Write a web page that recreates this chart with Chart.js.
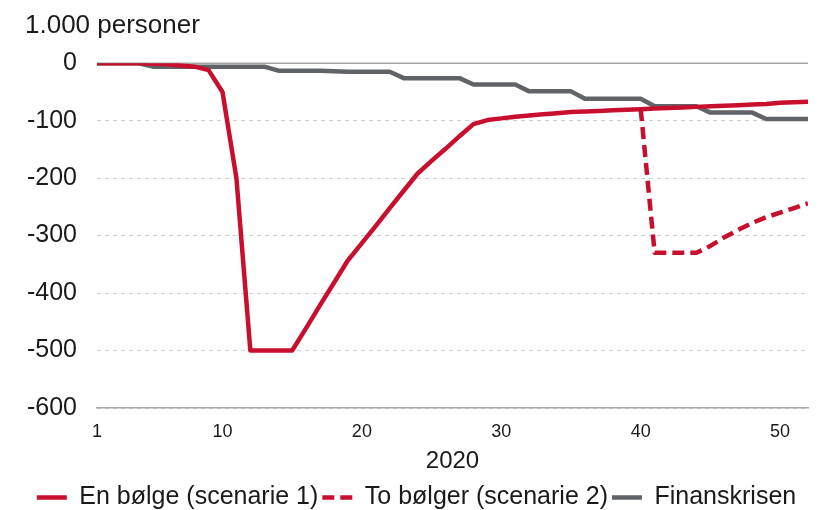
<!DOCTYPE html>
<html>
<head>
<meta charset="utf-8">
<script src="https://cdn.jsdelivr.net/npm/chart.js@4/dist/chart.umd.min.js"></script>
<style>
  html, body { margin: 0; padding: 0; background: #fff; }
  #wrap { width: 818px; height: 510px; }
</style>
</head>
<body>
<div id="wrap"><canvas id="chart"></canvas></div>
<script>
// uker i 2020
const weeks = Array.from({ length: 52 }, (_, i) => i + 1);
const xTicks = [1, 10, 20, 30, 40, 50];
const yTicks = [0, -100, -200, -300, -400, -500, -600];

// 1.000 personer
const enBolge = [
    0, 0, 0, 0, -1, -2, -4, -6, -12, -50,
    -200, -500, -500, -500, -500, -461, -421, -382, -343, -313,
    -283, -252, -222, -192, -170, -149, -127, -106, -99, -96,
    -93, -91, -89, -87, -85, -84, -83, -82, -81, -80,
    -79, -78, -77, -76, -75, -74, -73, -72, -71, -69,
    -68, -67
];
const toBolger = [
    null, null, null, null, null, null, null, null, null, null,
    null, null, null, null, null, null, null, null, null, null,
    null, null, null, null, null, null, null, null, null, null,
    null, null, null, null, null, null, null, null, null, -80,
    -330, -330, -330, -330, -318, -303, -290, -278, -268, -260,
    -252, -244
];
const finanskrisen = [
    0, 0, 0, 0, -6, -6, -6, -6, -6, -6,
    -6, -6, -6, -13, -13, -13, -13, -14, -15, -15,
    -15, -15, -26, -26, -26, -26, -26, -37, -37, -37,
    -37, -49, -49, -49, -49, -62, -62, -62, -62, -62,
    -75, -75, -75, -75, -86, -86, -86, -86, -97, -97,
    -97, -97
];

const RED = '#c8102e';
const GREY = '#606367';
const FONT = 'Liberation Sans, Arial, sans-serif';

// heltrukken linje ved 0
const zeroLine = {
    id: 'zeroLine',
    beforeDatasetsDraw(chart) {
        const y = chart.scales.y.getPixelForValue(0);
        const ctx = chart.ctx;
        ctx.save();
        ctx.strokeStyle = '#a6a6a6';
        ctx.lineWidth = 1.5;
        ctx.beginPath();
        ctx.moveTo(chart.chartArea.left, y);
        ctx.lineTo(chart.chartArea.right, y);
        ctx.stroke();
        ctx.restore();
    }
};

new Chart(document.getElementById('chart'), {
    type: 'line',
    data: {
        labels: weeks,
        datasets: [
            {
                label: 'En bølge (scenarie 1)',
                data: enBolge,
                borderColor: RED,
                backgroundColor: RED,
                borderWidth: 4.5,
                order: 1
            },
            {
                label: 'To bølger (scenarie 2)',
                data: toBolger,
                borderColor: RED,
                backgroundColor: RED,
                borderWidth: 4.5,
                borderDash: [12, 6],
                order: 2
            },
            {
                label: 'Finanskrisen',
                data: finanskrisen,
                borderColor: GREY,
                backgroundColor: GREY,
                borderWidth: 4.5,
                order: 3
            }
        ]
    },
    options: {
        responsive: true,
        maintainAspectRatio: false,
        animation: false,
        elements: {
            point: { radius: 0 },
            line: { tension: 0, borderJoinStyle: 'round' }
        },
        layout: { padding: { left: 25, right: 10, top: 0, bottom: -10 } },
        plugins: {
            title: {
                display: true,
                text: '1.000 personer',
                align: 'start',
                color: '#1a1a1a',
                font: { family: FONT, size: 26, weight: 'normal' },
                padding: { top: 10, bottom: 22 }
            },
            legend: {
                position: 'bottom',
                labels: {
                    usePointStyle: true,
                    pointStyle: 'line',
                    pointStyleWidth: 30,
                    color: '#1a1a1a',
                    font: { family: FONT, size: 25 },
                    padding: 4,
                    generateLabels: (chart) => {
                        const items = Chart.defaults.plugins.legend.labels.generateLabels(chart);
                        items.forEach(item => {
                            const ds = chart.data.datasets[item.datasetIndex];
                            item.lineDash = ds.borderDash || [];
                            item.lineWidth = ds.borderWidth;
                            item.strokeStyle = ds.borderColor;
                        });
                        return items;
                    }
                }
            },
            tooltip: { enabled: false }
        },
        scales: {
            x: {
                type: 'linear',
                min: 1,
                max: 52,
                afterBuildTicks: (scale) => {
                    scale.ticks = xTicks.map(v => ({ value: v }));
                },
                afterFit: (scale) => { scale.height = 73; },
                grid: { display: false, drawTicks: false },
                border: { color: '#a6a6a6', width: 1.5 },
                ticks: {
                    color: '#1a1a1a',
                    font: { family: FONT, size: 18 },
                    padding: 13,
                    maxRotation: 0
                },
                title: {
                    display: true,
                    text: '2020',
                    color: '#1a1a1a',
                    font: { family: FONT, size: 24 },
                    padding: { top: 0, bottom: 5 }
                }
            },
            y: {
                min: -600,
                max: 0,
                afterBuildTicks: (scale) => {
                    scale.ticks = yTicks.map(v => ({ value: v }));
                },
                afterFit: (scale) => { scale.width = 72; },
                grid: { color: '#cfcfcf', lineWidth: 1, drawTicks: false },
                border: { display: false, dash: [4, 4] },
                ticks: {
                    color: '#1a1a1a',
                    font: { family: FONT, size: 25 },
                    padding: 20
                }
            }
        }
    },
    plugins: [zeroLine]
});
</script>
</body>
</html>
